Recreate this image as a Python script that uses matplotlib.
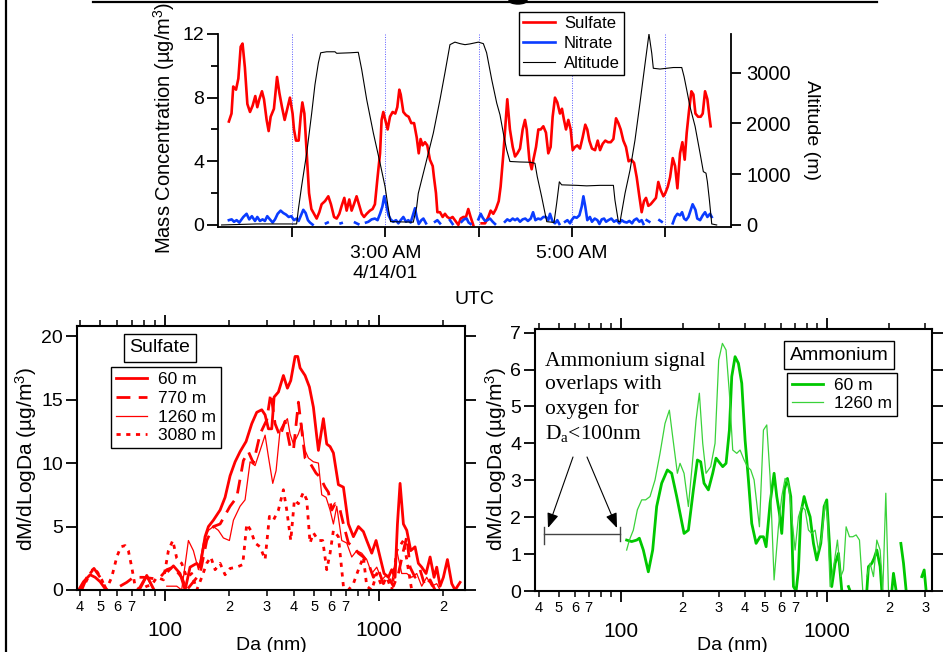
"""Flight profile: sulfate / nitrate mass vs altitude (top) and size distributions (bottom).
python3 plot.py -> out.png
"""
import numpy as np
import matplotlib
matplotlib.use("Agg")
import matplotlib.pyplot as plt
from matplotlib.lines import Line2D
from matplotlib.patches import Ellipse, FancyArrowPatch
from matplotlib.ticker import FixedLocator, FuncFormatter, LogLocator

nan = np.nan

# ---- top panel: time series (minutes after 00:00 UTC, 4/14/01) ----
sulf_t = [79.2, 80.9, 82.0, 83.8, 85.3, 86.8, 88.0, 89.5, 91.1, 92.8,
          94.5, 96.2, 97.5, 98.8, 100.5, 101.8, 103.5, 104.8, 106.1, 108.2,
          110.2, 111.7, 113.4, 115.1, 116.8, 118.5, 120.2, 121.1, 122.4, 124.1,
          125.4, 126.5, 127.8, 129.3, 130.8, 132.3, 134.0, 135.7, 137.4, 138.9,
          141.1, 143.2, 144.9, 146.9, 148.6, 150.3, 151.8, 153.5, 155.0, 156.7,
          158.2, 159.7, 161.4, 163.2, 164.7, 166.2, 167.9, 170.0, 171.7, 173.2,
          174.7, 176.5, 177.5, 178.6, 179.9, 181.4, 182.9, 184.6, 186.3, 187.6,
          188.9, 189.8, 191.5, 193.2, 194.9, 196.6, 198.4, 200.1, 201.4, 202.6,
          203.9, 205.4, 206.9, 208.6, 210.4, 211.2, 212.5, 213.4, 215.1, 216.8,
          218.3, 219.8, 221.5, 223.2, 224.7, 226.9, 228.4, 230.1, 231.8, 233.3,
          234.8, 236.5, 238.5, 241.9, 244.1, 246.2, 247.7, 249.4, 251.1, 252.9,
          254.1, 255.9, 258.4, 260.1, 261.9, 263.4, 264.9, 266.6, 268.3, 269.8,
          270.9, 272.6, 274.1, 275.2, 276.9, 278.4, 279.9, 281.6, 283.3, 284.8,
          286.3, 287.6, 289.1, 290.6, 292.3, 293.6, 294.9, 296.2, 297.7, 299.2,
          300.5, 302.0, 303.5, 305.2, 306.9, 308.6, 309.9, 311.2, 312.9, 314.9,
          316.6, 318.1, 319.8, 321.5, 323.2, 325.0, 326.7, 328.4, 329.9, 331.4,
          333.1, 334.8, 336.5, 338.3, 340.0, 341.7, 343.4, 344.9, 346.4, 347.7,
          349.2, 350.7, 352.4, 354.1, 355.6, 357.1, 358.9, 360.1, 361.7, 363.2,
          364.9, 366.4, 367.9, 369.6, 371.1, 372.6, 373.9, 375.4, 376.9, 378.2,
          379.5, 381.2, 382.9, 384.2, 385.7, 387.2, 388.5, 389.3]
sulf_v = [6.5, 7.0, 8.7, 8.5, 9.2, 11.2, 11.4, 9.9, 7.6, 7.1,
          7.5, 8.1, 7.4, 7.9, 8.4, 7.9, 6.6, 5.9, 6.8, 7.3,
          9.3, 8.3, 7.4, 6.6, 7.3, 8.0, 7.0, 6.0, 5.3, 5.3,
          6.8, 7.7, 7.0, 4.5, 2.0, 1.0, 0.7, 0.4, 0.8, 1.3,
          1.5, 1.8, 1.3, 0.5, 0.4, 0.7, 1.2, 1.7, 0.9, 1.6,
          0.9, 1.3, 1.8, 1.2, 0.7, 0.5, 0.7, 0.9, 1.0, 1.3,
          2.8, 4.5, 6.6, 7.1, 6.6, 6.0, 6.8, 7.1, 7.0, 7.4,
          8.5, 8.2, 7.1, 6.9, 6.8, 6.4, 6.4, 5.5, 4.5, 5.4,
          5.0, 5.2, 5.0, 4.1, 3.7, 3.0, 2.0, 0.8, 0.8, 0.5,
          0.7, 0.5, 0.4, 0.5, 0.3, 0.0, 0.4, 0.5, 0.5, 1.0,
          0.5, 0.0, nan, 0.1, 0.1, 0.5, 0.9, 0.7, 1.0, 1.5,
          2.4, 4.5, 7.9, 6.0, 4.9, 4.3, 4.5, 4.8, 6.0, 6.6,
          6.0, 4.1, 3.5, 4.1, 4.9, 6.0, 6.0, 6.2, 5.8, 4.5,
          4.9, 6.8, 8.0, 7.7, 7.0, 7.3, 6.6, 6.0, 6.6, 6.0,
          4.7, 4.9, 5.0, 4.8, 5.5, 6.3, 6.0, 5.3, 4.8, 4.7,
          5.3, 4.7, 5.1, 5.3, 5.2, 5.2, 5.4, 6.7, 6.4, 6.0,
          5.3, 4.9, 4.0, 4.1, 3.9, 3.0, 1.8, 0.8, 1.5, 1.7,
          1.2, 1.3, 1.5, 1.7, 2.7, 2.2, 1.8, 2.0, 2.4, 3.0,
          4.2, 3.7, 2.3, 4.5, 5.2, 4.1, 5.8, 7.2, 8.4, 8.2,
          7.0, 6.8, 6.8, 7.0, 8.4, 7.9, 6.8, 6.2]

nitr_t = [79.2, 81.0, 82.5, 84.2, 85.9, 88.5, 90.6, 92.3, 94.0, 96.0,
          97.5, 99.2, 100.9, 102.4, 103.9, 105.6, 107.4, 108.9, 110.6, 112.5,
          114.2, 116.0, 117.7, 119.4, 121.1, 122.8, 124.1, 125.4, 127.1, 128.6,
          130.1, 131.4, 133.1, 137.0, 141.7, 142.8, 147.0, 151.1, 151.8, 156.0,
          160.4, 162.5, 165.0, 167.5, 169.0, 171.1, 173.2, 174.9, 176.5, 178.0,
          179.2, 180.8, 182.0, 183.3, 185.0, 186.8, 188.3, 189.8, 191.5, 193.2,
          194.7, 196.2, 197.9, 199.0, 200.1, 201.4, 203.1, 204.4, 206.1, 209.0,
          211.9, 213.4, 215.1, 218.0, 221.5, 223.2, 226.0, 229.0, 230.5, 232.3,
          233.5, 234.8, 237.0, 239.8, 241.3, 242.6, 244.1, 245.6, 247.3, 249.0,
          250.5, 253.5, 256.9, 258.4, 260.1, 261.9, 263.4, 264.9, 266.6, 268.3,
          270.0, 271.7, 273.5, 275.0, 276.5, 278.2, 279.9, 281.6, 283.3, 284.8,
          285.9, 287.4, 289.1, 290.6, 291.9, 293.5, 295.6, 297.1, 298.8, 299.8,
          301.4, 303.1, 304.8, 306.3, 307.4, 308.6, 309.9, 311.6, 312.9, 314.7,
          316.4, 317.7, 319.2, 320.7, 322.0, 323.5, 325.4, 327.1, 328.8, 330.5,
          332.0, 333.5, 335.3, 337.0, 338.7, 340.0, 341.7, 343.4, 344.9, 346.0,
          347.0, 348.1, 349.8, 353.0, 356.3, 357.8, 361.0, 364.9, 366.4, 367.9,
          369.6, 370.9, 372.2, 373.5, 375.0, 376.5, 377.7, 379.5, 380.7, 382.5,
          384.2, 385.7, 387.2, 388.9, 390.0]
nitr_v = [0.3, 0.35, 0.2, 0.3, 0.15, 0.5, 0.7, 0.35, 0.55, 0.25,
          0.5, 0.25, 0.35, 0.25, 0.55, 0.35, 0.15, 0.35, 0.7, 0.9,
          0.75, 0.65, 0.5, 0.55, 0.3, 0.4, 0.25, 0.55, 0.95, 0.75,
          0.3, 0.15, 0.02, nan, 0.1, 0.15, nan, 0.1, 0.12, nan,
          0.15, 0.05, nan, 0.15, 0.2, 0.35, 0.4, 0.3, 0.7, 1.15,
          1.8, 1.15, 0.6, 0.35, 0.2, 0.3, 0.1, 0.3, 0.5, 0.2,
          0.3, 0.15, 0.7, 1.05, 0.5, 0.06, 0.3, 0.4, 0.1, nan,
          0.2, 0.3, 0.1, nan, 0.3, 0.06, nan, 0.2, 0.35, 0.4,
          0.15, 0.06, nan, 0.35, 0.7, 0.45, 0.25, 0.3, 0.4, 0.2,
          0.06, nan, 0.2, 0.35, 0.25, 0.4, 0.3, 0.4, 0.2, 0.35,
          0.4, 0.25, 0.4, 0.8, 0.3, 0.4, 0.35, 0.5, 0.5, 0.3,
          0.7, 0.25, 0.1, 0.3, 0.06, nan, 0.2, 0.3, 0.1, 0.3,
          0.5, 0.45, 0.6, 1.15, 1.8, 1.15, 0.3, 0.5, 0.2, 0.4,
          0.3, 0.06, 0.35, 0.4, 0.2, 0.3, 0.4, 0.2, 0.3, 0.1,
          0.3, 0.2, 0.15, 0.25, 0.1, 0.3, 0.4, 0.2, 0.3, 0.06,
          nan, 0.3, 0.2, nan, 0.3, 0.2, nan, 0.1, 0.5, 0.7,
          0.6, 0.8, 0.4, 0.3, 0.5, 0.95, 1.3, 0.95, 0.4, 0.3,
          0.6, 0.8, 0.5, 0.7, 0.5]

alt_t = [74.5, 97.1, 122.8, 123.9, 126.0, 129.3, 132.5, 134.6, 136.8, 138.3,
         142.1, 147.5, 148.6, 157.2, 162.5, 164.7, 167.9, 172.2, 176.5, 179.7,
         181.8, 183.3, 197.9, 200.1, 201.1, 203.3, 206.5, 210.8, 215.1, 218.3,
         221.5, 224.7, 228.0, 231.2, 234.4, 239.8, 243.0, 245.1, 248.4, 251.6,
         253.7, 255.9, 258.0, 260.1, 266.6, 273.0, 276.2, 277.7, 280.5, 283.8,
         288.5, 290.2, 291.9, 293.4, 303.1, 309.5, 318.1, 326.7, 327.7, 329.9,
         331.0, 334.2, 337.4, 340.6, 343.8, 347.1, 349.6, 351.4, 352.4, 356.7,
         365.3, 370.7, 372.2, 373.9, 376.0, 379.3, 382.5, 384.6, 386.3, 387.2,
         388.5, 390.0, 393.2]
alt_m = [0, 20, 20, 300, 760, 1415, 2200, 2760, 3190, 3390,
         3410, 3410, 3380, 3390, 3400, 3060, 2470, 1810, 1220, 760,
         330, 65, 55, 360, 620, 890, 1280, 1810, 2470, 3000,
         3550, 3600, 3570, 3550, 3565, 3600, 3570, 3390, 2860, 2400,
         2170, 1800, 1480, 1250, 1240, 1235, 1215, 950, 560, 65,
         50, 430, 850, 790, 780, 770, 780, 780, 490, 65,
         65, 625, 1080, 1670, 2400, 3180, 3760, 3380, 3085, 3070,
         3100, 3100, 2920, 2660, 2330, 1940, 1410, 1050, 1020, 850,
         490, 20, 0]

hour_ticks = [120, 180, 240, 300, 360]
hour_labels = ["", "3:00 AM\n4/14/01", "", "5:00 AM", ""]

# ---- bottom left: sulfate size distributions (Da nm, dM/dlogDa) ----
s60_d = [39.9, 41.7, 44.8, 47.3, 49.9, 53.2, 60, 75.3, 82.4, 89.2, 95,
         104.0, 109.8, 117.9, 124.5, 131.3, 141.1, 146.3, 154.3, 160.0, 168.8,
         181.4, 191.4, 202.0, 213.2, 224.9, 239.9, 255.0, 269.1, 284.0, 294.4,
         305.1, 316.2, 324.3, 339.8, 358.5, 374.3, 388.0, 406.5, 418.3, 428.9,
         452.6, 474.2, 495.1, 513.2, 522.5, 551.3, 571.5, 592.4, 614.0, 647.9,
         683.8, 721.6, 761.4, 803.5, 847.8, 878.8, 927.5, 971.6, 1014, 1059,
         1110, 1150, 1192, 1223, 1258, 1304, 1352, 1411, 1478, 1532,
         1588, 1664, 1738, 1814, 1866, 1935, 2005, 2094, 2194, 2274, 2399]
s60_v = [0.1, 0.65, 1.2, 1.0, 0.65, 0.0, nan, 0.0, 1.15, 0.0, nan,
         1.5, 1.9, 1.3, 0.0, 1.8, 2.1, 1.8, 4.2, 5.0, 5.5,
         6.3, 7.3, 9.0, 10.1, 10.9, 11.7, 13.1, 14.0, 14.2, 13.8,
         12.7, 12.7, 15.2, 15.6, 16.9, 15.9, 16.5, 18.4, 18.4, 17.5,
         16.9, 16.0, 14.4, 12.1, 11.0, 13.5, 11.5, 11.3, 10.8, 8.3,
         8.1, 5.2, 4.2, 5.0, 4.6, 3.9, 2.9, 3.9, 2.6, 1.3,
         1.0, 1.6, 1.0, 5.2, 8.4, 5.2, 4.7, 3.1, 3.4, 2.1,
         1.8, 1.3, 2.6, 1.0, 1.8, 0.3, 1.0, 2.4, 0.5, 0.0, 0.6]

s770_d = [40.9, 44.0, 46.7, 49.9, 53.6, 57,
          61.8, 66.4, 71.4, 79.5, 88.5, 95.1, 102.2, 109.8, 120.0, 126.7,
          146.3, 157.1, 168.8, 181.4, 202.0, 217.0, 233.1, 246.0, 259.6, 279.0,
          299.7, 312.9, 327.8, 345.9, 365.0, 385.2, 399.3, 421.3, 436.7, 452.6,
          477.6, 509.6, 532.0, 561.3, 581.9, 603.1, 625.2, 659.7, 683.8, 721.6,
          761.4, 803.5, 847.8, 894.7, 944.3, 996.4, 1051, 1110, 1171, 1236,
          1304, 1352, 1401, 1478, 1560, 1646, 1738, 1833]
s770_v = [0.0, 1.3, 1.7, 1.0, 0.0, nan,
          0.3, 0.6, 1.0, 1.0, 0.9, 1.0, 1.6, 1.8, 1.0, 0.0,
          1.3, 3.9, 5.0, 5.2, 6.6, 7.3, 10.2, 10.9, 10.0, 12.3,
          13.4, 15.5, 13.1, 12.1, 13.3, 11.3, 11.0, 14.8, 12.6, 10.4,
          10.0, 9.2, 8.9, 8.1, 7.7, 6.3, 6.8, 6.3, 5.2, 3.7,
          3.4, 2.9, 2.6, 2.1, 1.0, 1.6, 0.5, 1.0, 0.3, 1.3,
          3.1, 4.2, 1.8, 1.0, 1.6, 0.3, 0.8, 0.0]

s1260_d = [76.7, 82.4, 88.5, 95,
           102.2, 113.8, 120.0, 129.0, 136.1, 143.7,
           151.6, 160.0, 168.8, 178.1, 188.0, 200.5, 209.4, 224.9, 237.3, 250.5,
           264.3, 279.0, 294.4, 305.1, 319.7, 331.3, 345.9, 358.5, 374.3, 385.2,
           399.3, 421.3, 436.7, 452.6, 469.2, 495.1, 522.5, 541.5, 567.4, 592.4,
           614.0, 636.4, 671.6, 708.8, 747.9, 789.2, 832.8, 878.8, 927.5, 978.8,
           1033, 1090, 1150, 1214, 1281, 1352, 1426, 1505, 1588, 1676,
           1769, 1866, 1935]
s1260_v = [0.0, 1.0, 0.0, nan,
           0.3, 0.3, 0.0, 3.9, 3.1, 1.6,
           3.7, 4.7, 5.0, 4.7, 4.1, 3.9, 5.5, 6.6, 7.1, 10.1,
           9.8, 11.0, 12.2, 10.5, 8.4, 9.4, 12.6, 13.1, 13.5, 12.3,
           11.5, 12.3, 13.1, 11.0, 10.4, 10.1, 10.0, 7.5, 7.3, 6.3,
           5.2, 6.6, 3.9, 3.7, 2.6, 3.1, 2.9, 2.4, 1.3, 1.8,
           0.8, 1.2, 0.5, 3.1, 1.3, 1.3, 1.0, 1.3, 0.3, 1.0,
           0.3, 0.5, 0.0]

s3080_d = [40.2, 42.4, 44.8, 46.7, 48.5, 50.8, 53.2, 56.5, 59.7, 62.3,
           65.3, 67.6, 70.1, 72.7, 76.7, 82.4, 87.0, 91.8, 98.6, 104.0,
           109.0, 113.8, 120.0, 126.7, 133.7, 141.1, 148.9, 157.1, 164.1, 171.9,
           181.4, 191.4, 202.0, 217.0, 231.4, 241.6, 252.3, 264.3, 279.0, 294.4,
           308.4, 322.0, 339.8, 358.5, 371.6, 388.0, 403.6, 421.3, 444.6, 460.8,
           477.6, 495.1, 522.5, 547.4, 571.5, 592.4, 614.0, 647.9, 683.8, 721.6,
           761.4, 803.5, 847.8, 878.8, 927.5, 978.8, 1033, 1090, 1150, 1214,
           1304, 1352, 1426]
s3080_v = [0.0, 0.5, 1.3, 1.7, 1.4, 0.8, 0.0, 1.0, 2.6, 3.4,
           3.5, 3.1, 1.8, 0.3, 0.0, 0.3, 0.4, 1.0, 0.8, 3.1,
           3.9, 2.5, 2.1, 1.0, 1.3, 0.0, 1.0, 2.1, 2.6, 1.6,
           2.1, 1.2, 1.7, 1.8, 2.0, 5.2, 4.7, 3.7, 3.4, 2.4,
           5.8, 5.5, 6.3, 7.9, 6.3, 3.9, 7.1, 6.8, 7.7, 7.1,
           3.7, 4.5, 3.9, 3.9, 1.6, 2.9, 4.7, 4.2, 0.3, 0.0,
           0.5, 1.6, 2.6, 0.3, 0.0, 1.3, 0.3, 1.0, 0.0, 3.1,
           3.9, 2.4, 0.0]

# ---- bottom right: ammonium size distributions ----
a60_d = [106.9, 113.1, 119.6, 123.2, 128.8, 136.2, 143.0, 149.5, 158.1, 168.5,
         176.8, 187.0, 203.0, 213.1, 225.3, 235.6, 244.5, 253.8, 266.4, 279.6,
         290.2, 303.5, 312.7, 324.6, 336.9, 345.9, 359.0, 372.6, 386.8, 401.5,
         416.7, 432.5, 454.0, 474.8, 492.8, 507.7, 530.8, 555.1, 571.9, 589.3,
         604.8, 623.1, 644.4, 668.8, 689.1, 709.9, 728.6, 747.9, 776.3, 799.8,
         830.2, 861.7, 894.4, 935.3, 970.8, 1000, 1030, 1057, 1098, 1139,
         1183, 1230, 1274, 1298, 1430, 1564, 1593, 1654, 1698, 1749,
         1815, 1850, 1950, 2068, 2107, 2171, 2230, 2288, 2357, 2428,
         2650, 2892, 2969, 3035]
a60_v = [1.38, 1.34, 1.38, 1.43, 1.11, 0.52, 1.11, 2.29, 2.92, 3.28,
         3.19, 2.56, 1.56, 1.65, 2.74, 3.55, 3.5, 2.92, 2.74, 3.19,
         3.6, 3.46, 3.37, 3.46, 4.36, 5.81, 6.35, 6.17, 5.63, 4.09,
         3.01, 1.83, 1.29, 1.47, 1.47, 1.2, 2.38, 3.19, 2.56, 2.1,
         1.56, 2.74, 3.05, 2.56, 0.12, 0.0, 0.57, 2.1, 2.56, 2.29,
         2.01, 1.29, 0.84, 1.29, 2.29, 2.47, 1.29, 0.12, 0.75, 1.02,
         0.0, nan, 0.12, 0.0, nan, 0.0, 0.66, 0.75, 0.89, 1.11,
         0.66, 0.0, nan, 0.0, 0.48, 0.0, nan, 1.29, 0.75, 0.0,
         nan, 0.39, 0.57, 0.0]

a1260_d = [106.9, 110.2, 115.2, 120.5, 126.5, 132.2, 138.8, 146.8, 155.2, 164.1,
           172.3, 178.8, 188.4, 194.1, 203.0, 213.1, 222.8, 232.1, 240.9, 250.1,
           259.5, 273.4, 287.0, 299.0, 311.6, 324.6, 336.9, 349.7, 365.8, 379.6,
           397.0, 412.1, 427.7, 444.0, 471.2, 492.8, 511.5, 530.8, 555.1, 582.7,
           604.8, 627.8, 651.6, 676.3, 702.0, 728.6, 756.3, 785.1, 814.9, 845.8,
           877.9, 911.2, 945.8, 981.6, 1007.5, 1037.9, 1085.4, 1126.6, 1169.4, 1204.8,
           1241.3, 1288.4, 1337.3, 1388.1, 1440.8, 1495.5, 1530, 1563.9, 1623.2, 1684.9,
           1749.0, 1815.4, 1870.3, 1933.9, 1992.4]
a1260_v = [1.11, 1.38, 1.65, 2.2, 2.47, 2.47, 2.56, 3.01, 3.73, 4.54,
           4.9, 4.18, 3.19, 3.46, 3.19, 2.29, 3.46, 4.63, 5.36, 4.0,
           3.19, 3.37, 4.0, 6.26, 6.71, 6.53, 5.36, 3.82, 3.73, 3.82,
           3.55, 3.37, 3.28, 3.01, 1.74, 4.36, 4.5, 3.1, 0.3, 1.74,
           2.56, 3.05, 2.92, 2.01, 1.11, 2.01, 2.29, 2.2, 1.65, 1.56,
           1.65, 1.11, 1.47, 2.38, 2.01, 0.12, 0.75, 1.38, 0.39, 0.57,
           1.74, 1.47, 1.47, 1.52, 1.38, 0.0, nan, 0.39, 0.75, 0.39,
           1.38, 1.11, 0.0, 2.65, 0.0]

RED, BLUE, GREEN, GREEN_THIN = "#ff0000", "#0a3cff", "#00c800", "#3ad23a"

plt.rcParams["font.family"] = ["Liberation Sans", "DejaVu Sans"]
plt.rcParams["axes.linewidth"] = 1.3
W, H = 953, 652
fig = plt.figure(figsize=(W / 100, H / 100), dpi=100)


def box(l, t, r, b):
    """axes rect from pixel edges (origin top-left)"""
    return [l / W, 1 - b / H, (r - l) / W, (b - t) / H]


def fx(x):
    return x / W


def fy(y):
    return 1 - y / H


# ---------------- top panel ----------------
ax = fig.add_axes(box(218, 34, 731, 227))
ax2 = ax.twinx()
ax.plot(sulf_t, sulf_v, color=RED, lw=1.9, label="Sulfate")
ax.plot(nitr_t, nitr_v, color=BLUE, lw=1.9, label="Nitrate")
ax2.plot(alt_t, alt_m, color="k", lw=0.8, label="Altitude")
for t in hour_ticks:
    ax.axvline(t, color="#5a5aff", lw=0.7, ls=(0, (1, 1.5)), zorder=0)
ax.set_xlim(72.2, 402.4)
ax.set_ylim(-0.13, 12)
ax2.set_ylim(-40, 3760)
ax.set_yticks([0, 4, 8, 12])
ax.set_yticks([2, 6, 10], minor=True)
ax2.set_yticks([0, 1000, 2000, 3000])
ax.set_xticks(hour_ticks)
ax.set_xticklabels(hour_labels)
for a in (ax, ax2):
    a.spines["top"].set_visible(False)
ax.spines["right"].set_visible(False)
ax2.spines["left"].set_visible(False)
ax2.spines["bottom"].set_visible(False)
ax.tick_params(axis="y", which="major", direction="out", length=8, width=1.3,
               labelsize=14, pad=2)
ax.tick_params(axis="y", which="minor", direction="out", length=5, width=1.3)
ax.tick_params(axis="x", direction="out", length=7, width=1.3, labelsize=14, pad=6)
ax2.tick_params(axis="y", direction="out", length=7, width=1.3, labelsize=14.5, pad=4)
for lab in ax.get_xticklabels():
    lab.set_linespacing(1.2)

fig.text(fx(164), fy(128), "Mass Concentration (µg/m$\\mathregular{^3}$)",
         rotation=90, ha="center", va="center", fontsize=14.5)
fig.text(fx(812), fy(130), "Altitude (m)", rotation=-90, ha="center",
         va="center", fontsize=14)
fig.text(fx(474), fy(300), "UTC", ha="center", va="center", fontsize=14)

h = ax.get_lines()[:2] + ax2.get_lines()
fig.legend(h, [l.get_label() for l in h], loc="upper left",
           bbox_to_anchor=(fx(519), fy(12)), fontsize=12, frameon=True,
           fancybox=False, edgecolor="k", framealpha=1, borderaxespad=0,
           handlelength=1.9, handletextpad=0.55, labelspacing=0.28,
           borderpad=0.25).get_frame().set_linewidth(1)


# ---------------- size distribution panels ----------------
def minor_label(x, pos):
    d = int(round(x / 10 ** np.floor(np.log10(x))))
    return str(d) if 2 <= d <= 7 else ""


def style_log(a, xlim, ylim, yticks):
    a.set_xscale("log")
    a.set_xlim(*xlim)
    a.set_ylim(*ylim)
    a.set_yticks(yticks)
    a.xaxis.set_major_locator(FixedLocator([100, 1000]))
    a.xaxis.set_major_formatter(FuncFormatter(lambda x, p: f"{int(x)}"))
    a.xaxis.set_minor_locator(LogLocator(base=10, subs=np.arange(2, 10), numticks=20))
    a.xaxis.set_minor_formatter(FuncFormatter(minor_label))
    a.tick_params(axis="x", which="major", direction="out", length=8, width=1.3,
                  top=True, labelsize=15, pad=14)
    a.tick_params(axis="x", which="minor", direction="out", length=4, width=1.1,
                  top=True, labelsize=10.5, pad=3)
    a.tick_params(axis="y", direction="out", length=8, width=1.3, right=True,
                  labelsize=14, pad=2)
    for s in a.spines.values():
        s.set_linewidth(1.5)


axl = fig.add_axes(box(77, 326, 465, 590))
axl.plot(s60_d, s60_v, color=RED, lw=2.0, label="60 m")
axl.plot(s770_d, s770_v, color=RED, lw=2.0, ls=(0, (5, 3)), label="770 m")
axl.plot(s1260_d, s1260_v, color=RED, lw=0.9, label="1260 m")
axl.plot(s3080_d, s3080_v, color=RED, lw=2.0, ls=(0, (1.5, 2)), label="3080 m")
style_log(axl, (38.9, 2530), (0, 20.8), [0, 5, 10, 15, 20])

axr = fig.add_axes(box(535, 329, 932, 591))
axr.plot(a60_d, a60_v, color=GREEN, lw=2.0, label="60 m")
axr.plot(a1260_d, a1260_v, color=GREEN_THIN, lw=0.9, label="1260 m")
style_log(axr, (38.4, 3240), (0, 7.1), list(range(8)))

for xc in (26, 496):
    fig.text(fx(xc), fy(459), "dM/dLogDa (µg/m$\\mathregular{^3}$)", rotation=90,
             ha="center", va="center", fontsize=15)
for xc in (271, 732):
    fig.text(fx(xc), fy(645), "Da (nm)", ha="center", va="center", fontsize=14)

# panel titles in boxes
bprops = dict(boxstyle="square,pad=0.3", fc="white", ec="k", lw=1)
fig.text(fx(160), fy(348), "Sulfate", ha="center", va="center", fontsize=14, bbox=bprops)
fig.text(fx(839), fy(355), "Ammonium", ha="center", va="center", fontsize=14, bbox=bprops)

leg_kw = dict(loc="upper left", fontsize=12.5, frameon=True, fancybox=False,
              edgecolor="k", framealpha=1, borderaxespad=0, handlelength=1.8,
              handletextpad=0.6, borderpad=0.3)
axl.legend(bbox_to_anchor=(fx(111), fy(367)), bbox_transform=fig.transFigure,
           labelspacing=0.2, **leg_kw).get_frame().set_linewidth(1)
axr.legend(bbox_to_anchor=(fx(787), fy(373)), bbox_transform=fig.transFigure,
           labelspacing=0.12, **leg_kw).get_frame().set_linewidth(1)

# note on the ammonium panel
fig.text(fx(545), fy(352), "Ammonium signal\noverlaps with\noxygen for\n"
         "D$\\mathregular{_a}$<100nm", family="Liberation Serif", fontsize=15.5,
         ha="left", va="top", linespacing=1.3)
for x0, x1 in ((573, 548), (587, 617)):
    fig.add_artist(FancyArrowPatch(
        (fx(x0), fy(457)), (fx(x1), fy(528)), transform=fig.transFigure,
        arrowstyle="-|>,head_length=9,head_width=3.5", color="k", lw=0.8,
        shrinkA=0, shrinkB=0))
for xs, ys in (([544, 620], [534, 534]), ([544, 544], [527, 544]), ([620, 620], [527, 541])):
    fig.add_artist(Line2D([fx(v) for v in xs], [fy(v) for v in ys],
                          transform=fig.transFigure, color="#444444", lw=1))

# cropped frame remnants of the original page
fig.add_artist(Line2D([fx(93), fx(877)], [fy(1.5), fy(1.5)], transform=fig.transFigure,
                      color="k", lw=1.6))
fig.add_artist(Ellipse((fx(518), fy(0.5)), 18 / W, 7 / H, transform=fig.transFigure,
                       color="k"))
fig.add_artist(Line2D([fx(6), fx(6)], [0, 1], transform=fig.transFigure, color="k", lw=1.6))

fig.savefig("out.png", dpi=100)
